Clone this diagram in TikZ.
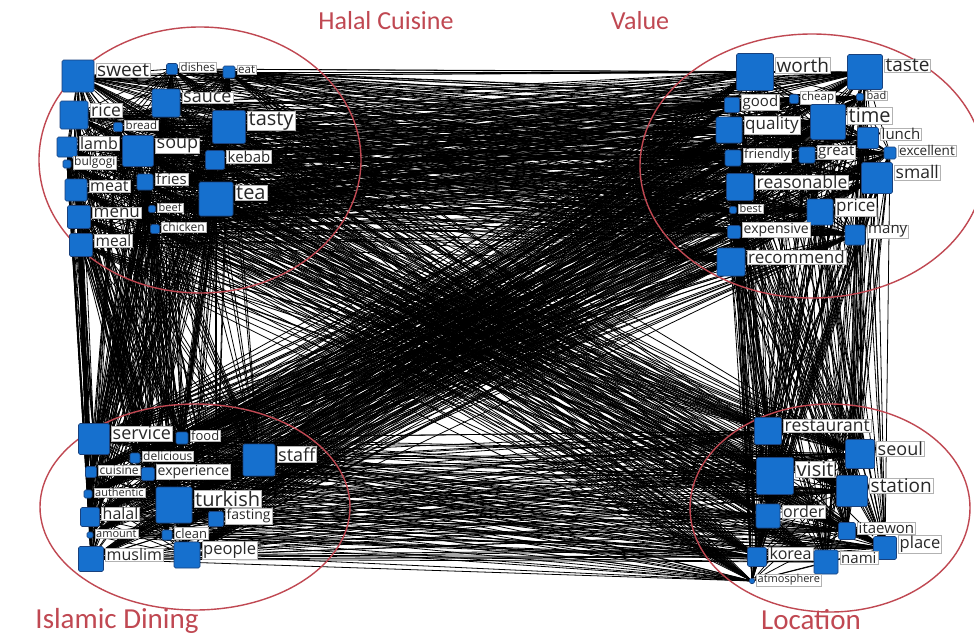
\documentclass[tikz,border=0pt]{standalone}
\usepackage{fontspec}
\setmainfont{Open Sans}
\newfontfamily\titlefont{Carlito}
\usetikzlibrary{backgrounds}
\definecolor{nodeblue}{RGB}{22,112,206}
\definecolor{nodeedge}{RGB}{25,65,125}
\definecolor{circred}{RGB}{192,72,82}
\definecolor{lbltext}{RGB}{40,40,40}
\tikzset{
  sq/.style={draw=nodeedge, fill=nodeblue, rounded corners=1.5pt, inner sep=0pt, line width=0.6pt},
  lbl/.style={fill=white, draw=black!30, line width=0.4pt, inner xsep=1.2pt, inner ysep=0.6pt, text=lbltext},
  edge/.style={draw=black, line width=0.8pt},
  cluster/.style={draw=circred, line width=1.4pt},
  ttl/.style={text=circred, font=\titlefont\fontsize{26pt}{26pt}\selectfont, inner sep=0pt},
  ttlb/.style={ttl, font=\titlefont\fontsize{29pt}{29pt}\selectfont},
}
\newcommand\wn[6]{%
  \node[sq, minimum size=#4pt] (#1) at (#2,#3) {};
  \node[lbl, anchor=west, font=\fontsize{#5pt}{#5pt}\selectfont] (#1-l) at ([xshift=1.5pt,yshift=#4*0.18pt]#1.east) {#6};
}
\def\allw{sweet,dishes,eat,rice,sauce,tasty,bread,lamb,soup,kebab,bulgogi,meat,fries,tea,menu,beef,chicken,meal,worth,taste,good,cheap,bad,quality,time,lunch,friendly,great,excellent,small,reasonable,best,price,expensive,many,recommend,service,food,delicious,staff,cuisine,experience,authentic,turkish,halal,fasting,amount,clean,muslim,people,restaurant,seoul,visit,station,order,itaewon,place,korea,nami,atmosphere}
\begin{document}
\begin{tikzpicture}[x=1pt,y=-1pt]
\useasboundingbox (0,0) rectangle (974,637);
% clusters
\draw[cluster] (200,160) ellipse [x radius=161pt, y radius=133pt];
\draw[cluster] (812,166) ellipse [x radius=172pt, y radius=132pt];
\draw[cluster] (195,507) ellipse [x radius=155pt, y radius=103pt];
\draw[cluster] (830,508) ellipse [x radius=140pt, y radius=104pt];
\node[ttl] (t1) at (386,21) {Halal Cuisine};
\node[ttl] (t2) at (640,21) {Value};
\node[ttlb] (t3) at (117,621) {Islamic Dining};
\node[ttlb] (t4) at (811,620) {Location};
% Halal Cuisine
\wn{sweet}{78}{76}{32}{19}{sweet}
\wn{dishes}{172}{69}{11}{11.5}{dishes}
\wn{eat}{229}{72}{12}{11.5}{eat}
\wn{rice}{74}{115}{28}{17.5}{rice}
\wn{sauce}{166}{103}{28}{18}{sauce}
\wn{tasty}{229}{127}{33}{20}{tasty}
\wn{bread}{118}{127}{9}{11.5}{bread}
\wn{lamb}{67}{147}{20}{16}{lamb}
\wn{soup}{138}{151}{31}{18}{soup}
\wn{kebab}{215}{160}{19}{15}{kebab}
\wn{bulgogi}{67}{164}{8}{12}{bulgogi}
\wn{meat}{76}{190}{22}{16}{meat}
\wn{fries}{145}{182}{16}{15}{fries}
\wn{tea}{216}{199}{34}{20}{tea}
\wn{menu}{79}{217}{23}{17}{menu}
\wn{beef}{152}{209}{7}{11}{beef}
\wn{chicken}{155}{229}{9}{12}{chicken}
\wn{meal}{81}{245}{23}{15.5}{meal}
% Value
\wn{worth}{755}{72}{37}{19}{worth}
\wn{taste}{865}{72}{35}{19}{taste}
\wn{good}{732}{105}{15}{15}{good}
\wn{cheap}{794}{99}{9}{11.5}{cheap}
\wn{bad}{860}{97}{7}{11}{bad}
\wn{quality}{729}{130}{26}{17}{quality}
\wn{time}{828}{122}{35}{20}{time}
\wn{lunch}{868}{138}{21}{15}{lunch}
\wn{friendly}{733}{158}{16}{13}{friendly}
\wn{great}{807}{155}{16}{15}{great}
\wn{excellent}{890}{153}{12}{13.5}{excellent}
\wn{small}{877}{178}{31}{17.5}{small}
\wn{reasonable}{740}{187}{27}{17.5}{reasonable}
\wn{best}{733}{210}{7}{11}{best}
\wn{price}{820}{212}{26}{17}{price}
\wn{expensive}{734}{232}{13}{14}{expensive}
\wn{many}{855}{235}{20}{15}{many}
\wn{recommend}{731}{262}{28}{17}{recommend}
% Islamic Dining
\wn{service}{94}{439}{31}{18}{service}
\wn{food}{182}{438}{12}{13}{food}
\wn{delicious}{135}{458}{10}{12}{delicious}
\wn{staff}{259}{460}{32}{18}{staff}
\wn{cuisine}{91}{472}{11}{12}{cuisine}
\wn{experience}{148}{474}{13}{14}{experience}
\wn{authentic}{88}{494}{8}{11}{authentic}
\wn{turkish}{174}{505}{36}{20}{turkish}
\wn{halal}{90}{517}{19}{16}{halal}
\wn{fasting}{216}{519}{15}{14}{fasting}
\wn{amount}{90}{535}{6}{11}{amount}
\wn{clean}{167}{535}{10}{13}{clean}
\wn{muslim}{91}{559}{25}{16}{muslim}
\wn{people}{187}{555}{26}{16.5}{people}
% Location
\wn{restaurant}{768}{431}{27}{17.5}{restaurant}
\wn{seoul}{860}{454}{29}{18}{seoul}
\wn{visit}{775}{476}{37}{20}{visit}
\wn{station}{852}{491}{31}{19}{station}
\wn{order}{768}{516}{24}{16}{order}
\wn{itaewon}{847}{531}{17}{15}{itaewon}
\wn{place}{885}{548}{23}{16.5}{place}
\wn{korea}{757}{557}{19}{16}{korea}
\wn{nami}{826}{562}{24}{15}{nami}
\wn{atmosphere}{752}{581}{5}{11}{atmosphere}
% edges
\begin{pgfonlayer}{background}
\fill[white] (0,0) rectangle (974,637);
\foreach \a [count=\i] in \allw {
  \foreach \b [count=\j] in \allw {
    \ifnum\j>\i\relax \draw[edge] (\a) -- (\b);\fi
  }
}
\end{pgfonlayer}
\end{tikzpicture}
\end{document}
